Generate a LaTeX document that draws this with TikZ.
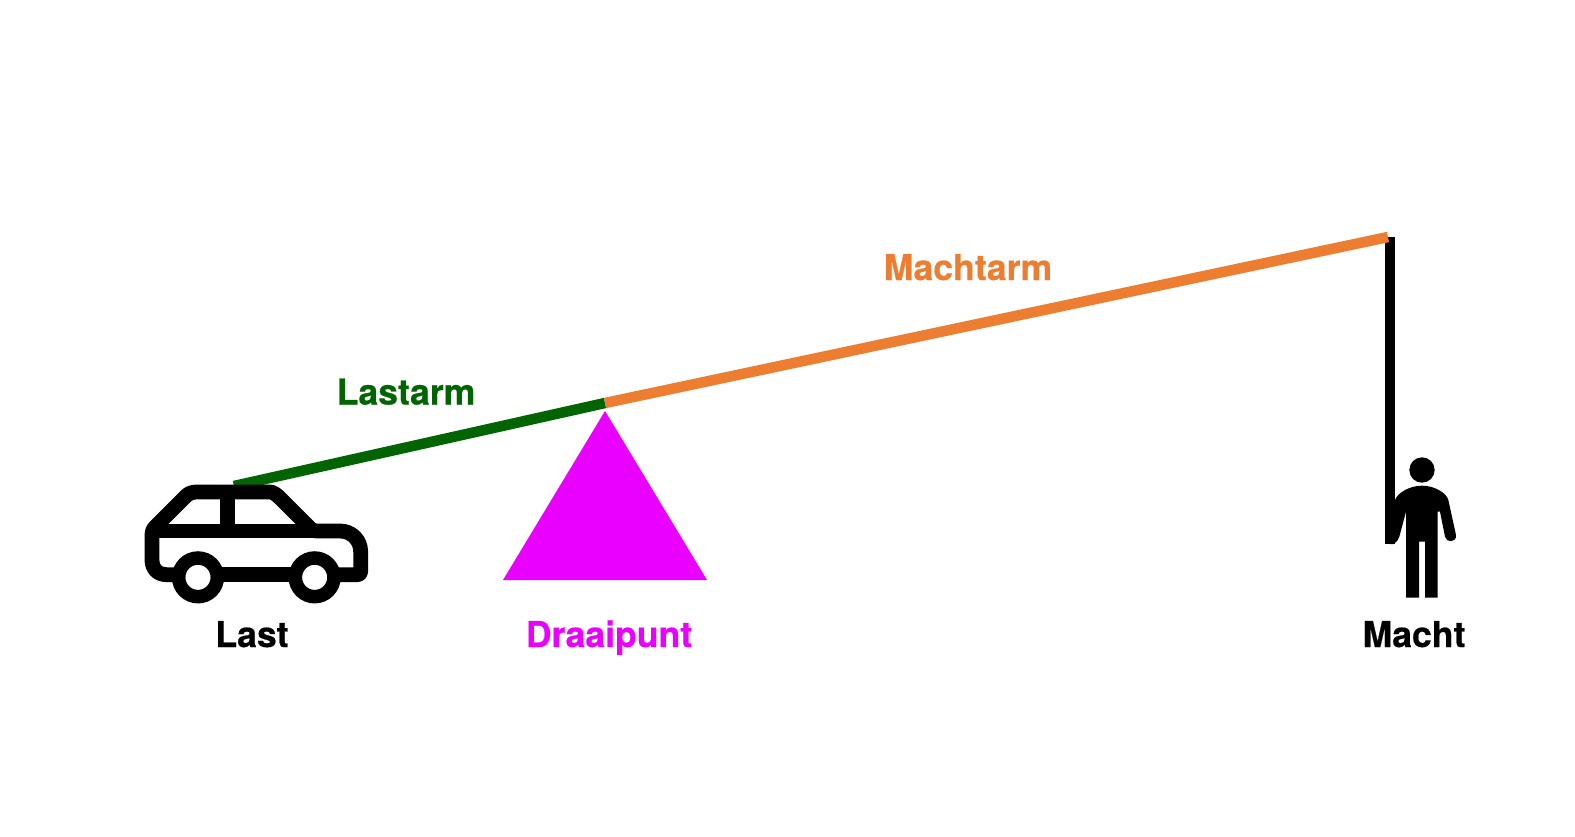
\documentclass[tikz,border=0pt]{standalone}
\usepackage{fontspec}
\setmainfont{TeX Gyre Heros}[BoldFeatures={FakeBold=0.4}]
\definecolor{armgreen}{HTML}{006400}
\definecolor{armorange}{HTML}{ED7D31}
\definecolor{pivot}{HTML}{EA00FF}
\tikzset{
  label text/.style={font=\fontsize{35.6}{40}\selectfont\bfseries,anchor=base,inner sep=0pt},
  arm/.style={line width=10.5pt},
  icon line/.style={line width=14.8pt,line join=round,black},
}
\begin{document}
\begin{tikzpicture}[x=1pt,y=-1pt]
\useasboundingbox (0,0) rectangle (1575,836);
\fill[white] (0,0) rectangle (1575,836);
% lever points
\coordinate (loadend) at (234,486);
\coordinate (fulcrum) at (605,403);
\coordinate (effortend) at (1388,237);
\coordinate (bartop) at (1389.5,237);
\coordinate (barbottom) at (1389.5,544);
\draw[arm,armgreen] (loadend) -- (fulcrum);
\draw[line width=10pt,black] (bartop) -- (barbottom);
\draw[arm,armorange] (fulcrum) -- (effortend);
% pivot
\fill[pivot] (605,411) -- (707,580) -- (503,580) -- cycle;
% car
\begin{scope}[shift={(130,460)},x=0.33333pt,y=-0.33333pt]
  \draw[icon line]
    (150,344) -- (110,344) .. controls (82,344) and (66,325) .. (66,300) -- (66,228)
    .. controls (66,216) and (68,208) .. (76,200) -- (168,108)
    .. controls (176,100) and (187,96) .. (200,96) -- (420,96)
    .. controls (428,96) and (438,102) .. (450,114) -- (541,205)
    .. controls (549,213) and (555,213) .. (562,213) -- (630,213)
    .. controls (665,213) and (692,240) .. (692,275) -- (692,335)
    .. controls (692,340) and (688,344) .. (683,344) -- (610,344);
  \draw[icon line] (66,213) -- (630,213);
  \draw[icon line] (292,96) -- (292,213);
  \draw[icon line] (260,344) -- (500,344);
  \draw[line width=13.5pt,black] (204,352) circle (58);
  \draw[line width=13.5pt,black] (554,352) circle (58);
\end{scope}
% person
\begin{scope}[shift={(1340,440)},x=0.33333pt,y=-0.33333pt]
  \fill[black] (246,90) circle (38);
  \fill[black] (150,312) -- (160,312) .. controls (170,305) and (176,300) .. (178,290) -- (198,215)
    -- (198,473) -- (237,473) -- (237,305) -- (255,305) -- (255,473) -- (293,473) -- (293,215)
    -- (300,215) -- (315,290) .. controls (318,308) and (350,310) .. (348,285)
    -- (325,180) .. controls (320,160) and (285,137) .. (246,137)
    .. controls (207,137) and (172,160) .. (165,180) -- (150,240) -- cycle;
\end{scope}
% labels
\node[label text,armorange] (machtarm) at (968,280) {Machtarm};
\node[label text,armgreen] (lastarm) at (406,404.5) {Lastarm};
\node[label text,black] (last) at (252,647) {Last};
\node[label text,pivot] (draaipunt) at (609,647) {Draaipunt};
\node[label text,black] (macht) at (1414,647) {Macht};
\end{tikzpicture}
\end{document}
